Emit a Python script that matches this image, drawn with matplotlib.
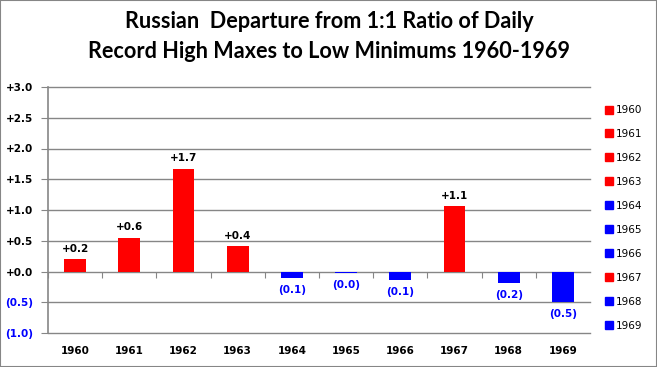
import matplotlib.pyplot as plt
from matplotlib.patches import Rectangle
from matplotlib.lines import Line2D

anos = ['1960', '1961', '1962', '1963', '1964', '1965', '1966', '1967', '1968', '1969']
valores = [0.20, 0.55, 1.67, 0.41, -0.11, -0.03, -0.14, 1.06, -0.18, -0.49]
rotulos = ['+0.2', '+0.6', '+1.7', '+0.4', '(0.1)', '(0.0)', '(0.1)', '+1.1', '(0.2)', '(0.5)']
yticks = [-1.0, -0.5, 0.0, 0.5, 1.0, 1.5, 2.0, 2.5, 3.0]
ylabels = ['(1.0)', '(0.5)', '+0.0', '+0.5', '+1.0', '+1.5', '+2.0', '+2.5', '+3.0']

cinza = '#868686'
cores = ['#ff0000' if v >= 0 else '#0000ff' for v in valores]

fig = plt.figure(figsize=(6.57, 3.67), dpi=100)
ax = fig.add_axes([48/657, 1 - 333/367, 542/657, 246/367])

x = list(range(len(anos)))
ax.bar(x, valores, width=0.4, color=cores, zorder=3)

for xi, v, r, c in zip(x, valores, rotulos, cores):
    if v >= 0:
        ax.annotate(r, (xi, v), xytext=(0, 4), textcoords='offset points',
                    ha='center', va='bottom', fontsize=7.5, fontweight='bold', color='black')
    else:
        ax.annotate(r, (xi, v), xytext=(0, -5), textcoords='offset points',
                    ha='center', va='top', fontsize=7.5, fontweight='bold', color='#0000ff')

ax.set_xlim(-0.5, len(anos) - 0.5)
ax.set_ylim(-1.0, 3.0)
ax.set_yticks(yticks)
ax.set_yticklabels(ylabels, fontsize=7.5, fontweight='bold')
for lab, t in zip(ax.get_yticklabels(), yticks):
    lab.set_color('#0000ff' if t < 0 else 'black')
ax.tick_params(axis='y', length=5, color=cinza, pad=6)
ax.yaxis.grid(True, color=cinza, linewidth=1, zorder=0)
for gl in ax.get_ygridlines():
    gl.set_clip_on(False)

ax.set_xticks(x)
ax.set_xticklabels(anos, fontsize=7.5, fontweight='bold')
ax.tick_params(axis='x', length=0, pad=9)

for s in ['top', 'right', 'bottom']:
    ax.spines[s].set_visible(False)
ax.spines['left'].set_color(cinza)
ax.spines['left'].set_linewidth(1.2)

# eixo das categorias na linha do zero, com marcas entre as categorias
sec = ax.secondary_xaxis(0.25)
sec.set_xticks([i + 0.5 for i in x[:-1]] + [-0.5])
sec.set_xticklabels([])
sec.tick_params(length=4, color=cinza, direction='out')
sec.spines['bottom'].set_visible(False)

fig.text(329/657, 1 - 21/367, 'Russian  Departure from 1:1 Ratio of Daily',
         ha='center', va='center', fontsize=15.6, fontweight='bold', family='Lato')
fig.text(329/657, 1 - 52/367, 'Record High Maxes to Low Minimums 1960-1969',
         ha='center', va='center', fontsize=15.6, fontweight='bold', family='Lato')

handles = [Line2D([], [], marker='s', linestyle='none', markersize=6,
                  markerfacecolor=c, markeredgecolor=c) for c in cores]
fig.legend(handles, anos, loc='upper left', bbox_to_anchor=(600/657, 1 - 101/367),
           frameon=False, fontsize=7.5, handletextpad=0.1, labelspacing=1.34,
           handlelength=1.0, borderaxespad=0)

fig.patches.append(Rectangle((0, 0), 1, 1, transform=fig.transFigure, fill=False,
                             edgecolor=cinza, linewidth=1.5))

fig.savefig('out.png', dpi=100)
